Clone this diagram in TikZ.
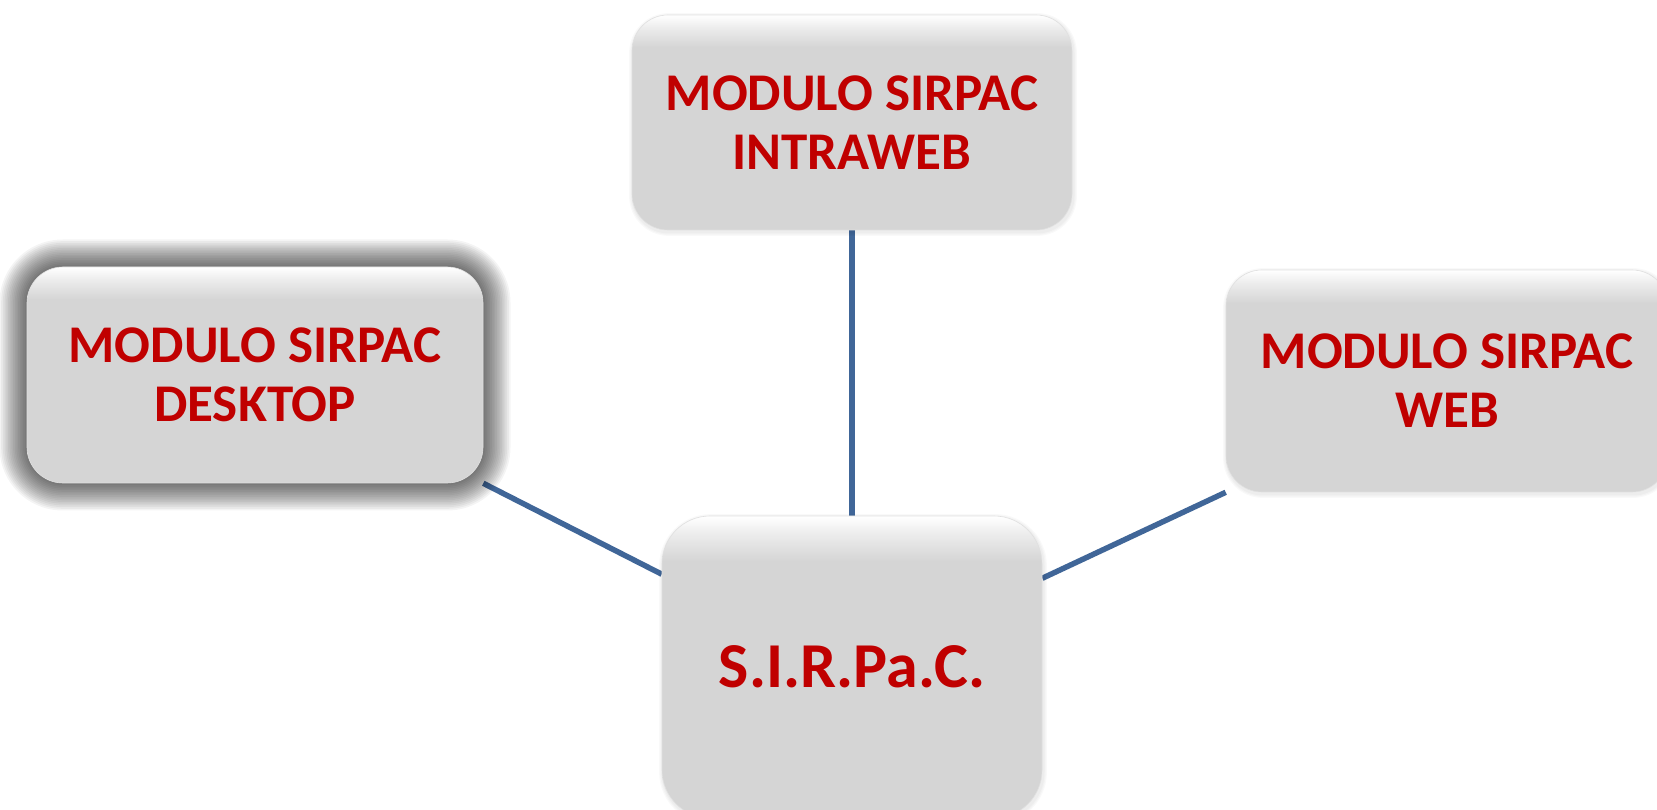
\documentclass[tikz,border=0pt]{standalone}
\usepackage{fontspec}
\setmainfont{Carlito}
\usetikzlibrary{calc,backgrounds}
\definecolor{txtred}{RGB}{192,0,0}
\definecolor{linkblue}{RGB}{64,102,152}
\definecolor{boxgray}{RGB}{213,213,213}
\definecolor{boxlight}{RGB}{236,236,236}
\pgfdeclareverticalshading{boxshade}{100bp}{color(0bp)=(boxgray); color(67.5bp)=(boxgray); color(72bp)=(boxlight); color(75bp)=(white); color(100bp)=(white)}
\pgfdeclarelayer{paper}
\pgfdeclarelayer{lines}
\pgfdeclarelayer{glow}
\pgfsetlayers{paper,lines,glow,main}
\tikzset{
  modbox/.style={rectangle, rounded corners=36pt, shade, shading=boxshade, draw=white!88!black, line width=0.6pt,
    inner sep=0pt, align=center, text=txtred,
    font=\fontsize{53}{59}\selectfont\bfseries},
  link/.style={draw=linkblue, line width=5.5pt}
}
\begin{document}
\begin{tikzpicture}
\useasboundingbox (0,0) rectangle (1657pt,809pt);

\node[modbox, minimum width=440pt, minimum height=215pt] (top) at (852pt,686.5pt) {MODULO SIRPAC\\INTRAWEB};
\node[modbox, minimum width=456pt, minimum height=216pt] (left) at (255pt,434pt) {MODULO SIRPAC\\DESKTOP};
\node[modbox, minimum width=442pt, minimum height=222pt] (right) at (1447pt,428pt) {MODULO SIRPAC\\WEB};
\node[modbox, rounded corners=48pt, minimum width=380pt, minimum height=302pt,
      font=\fontsize{64}{70}\selectfont\bfseries] (center) at (852pt,142pt) {S.I.R.Pa.C.};

\begin{pgfonlayer}{paper}
  \fill[white] (0,0) rectangle (1657pt,809pt);
\end{pgfonlayer}

\begin{pgfonlayer}{glow}
  \foreach \i [evaluate=\i as \d using \i*1.7, evaluate=\i as \r using 36+\i*1.7] in {1,...,16}{
    \fill[black, opacity=0.043, rounded corners=\r pt]
      ([shift={(-\d pt,-\d pt)}]left.south west) rectangle ([shift={(\d pt,\d pt)}]left.north east);
  }
  \foreach \n/\rr in {top/36,right/36,center/48}{
    \foreach \i [evaluate=\i as \d using \i*1.2, evaluate=\i as \r using \rr+\i*1.2] in {1,2,3}{
      \fill[black, opacity=0.025, rounded corners=\r pt]
        ([shift={(-\d pt+1pt,-\d pt-2pt)}]\n.south west) rectangle ([shift={(\d pt+1pt,\d pt-2pt)}]\n.north east);
    }
  }
\end{pgfonlayer}

\begin{pgfonlayer}{lines}
  \draw[link] (top.south) -- (center.north);
  \draw[link] (left.south east) -- (center.154);
  \draw[link] (center.25.6) -- (right.south west);
\end{pgfonlayer}
\end{tikzpicture}
\end{document}
